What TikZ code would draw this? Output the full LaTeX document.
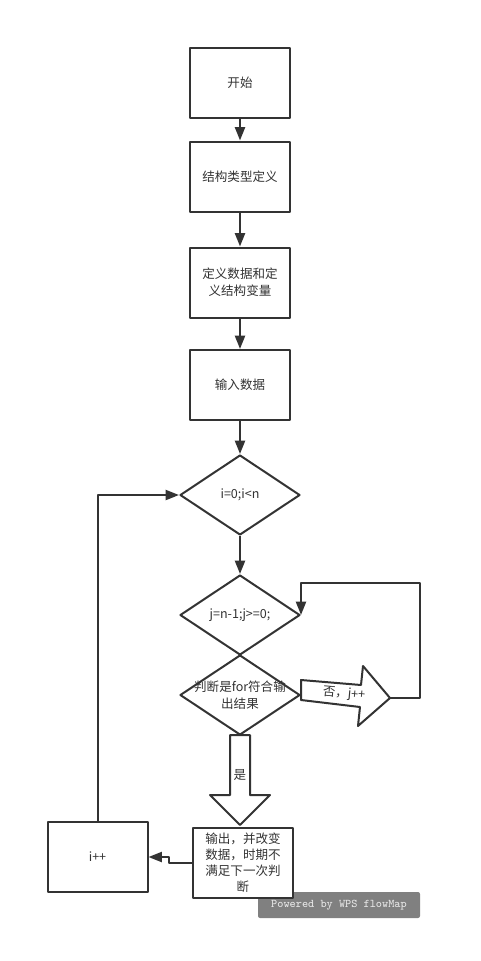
\documentclass[tikz,border=0pt]{standalone}
\usepackage{fontspec}
\setmainfont{Noto Sans CJK SC}
\usetikzlibrary{shapes.geometric,arrows.meta}
\definecolor{linec}{HTML}{333333}
\definecolor{markc}{HTML}{808080}
\definecolor{marktext}{HTML}{E8E8E8}
\begin{document}
\begin{tikzpicture}[x=0.75pt,y=-0.75pt,line join=round,line width=1.5pt,color=linec,>={Triangle[length=10pt,width=7.5pt]},font=\fontsize{9.4}{12.5}\selectfont]
			\tikzset{proc/.style={draw,fill=white,minimum width=75pt,minimum height=52.5pt,inner sep=1pt,align=center},
				decide/.style={draw,fill=white,diamond,minimum width=90pt,minimum height=60pt,inner sep=0pt},
				bigarrow/.style={draw,fill=white}}
			\fill[white] (0,0) rectangle (481,961);
			\useasboundingbox (0,0) rectangle (481,961);
			\node[proc] (start) at (240,82.5) {开始};
			\node[proc] (types) at (240,176.5) {结构类型定义};
			\node[proc] (vars) at (240,282.5) {定义数据和定\\义结构变量};
			\node[proc] (input) at (240,385) {输入数据};
			\node[decide,label={center:{i=0;i<n}}] (loopi) at (240,495) {};
			\node[decide,label={center:{j=n-1;j>=0;}}] (loopj) at (240,615) {};
			\node[decide,label={[align=center]center:{判断是for符合输\\出结果}}] (judge) at (240,695) {};
			\draw[->] (start) -- (types);
			\draw[->] (types) -- (vars);
			\draw[->] (vars) -- (input);
			\draw[->] (input) -- (loopi);
			\draw[->] (loopi) -- (loopj);
			% no: j++
			\draw[bigarrow] (301,680) -- (361,685) -- (363,666) -- (390,698) -- (358,726) -- (360,707) -- (301,700) -- cycle;
			\node[rotate=-5] (nolabel) at (344,694) {否，j++};
			\coordinate (notip) at (390,698);
			\coordinate (back) at (420,583);
			\draw[->] (notip) -| (back) -| (loopj.east);
			% yes
			\draw[bigarrow] (230,735) -- (250,735) -- (250,795) -- (270,795) -- (240,825) -- (210,795) -- (230,795) -- cycle;
			\node (yeslabel) at (240,775) {是};
			\node[fill=markc,rounded corners=1.5pt,minimum width=121.5pt,minimum height=19.5pt,text=marktext,font=\ttfamily\fontsize{8.8}{10}\selectfont] (mark) at (339,905) {Powered by WPS flowMap};
			\node[proc,font=\fontsize{9.4}{12}\selectfont] (output) at (243,863) {输出，并改变\\数据，时期不\\满足下一次判\\断};
			\node[proc] (inc) at (97.5,857) {i++};
			\draw[->] (output.west) -- ++(-23,0) |- (inc.east);
			\draw[->] (inc.north) |- (loopi.west);
		\end{tikzpicture}
\end{document}
